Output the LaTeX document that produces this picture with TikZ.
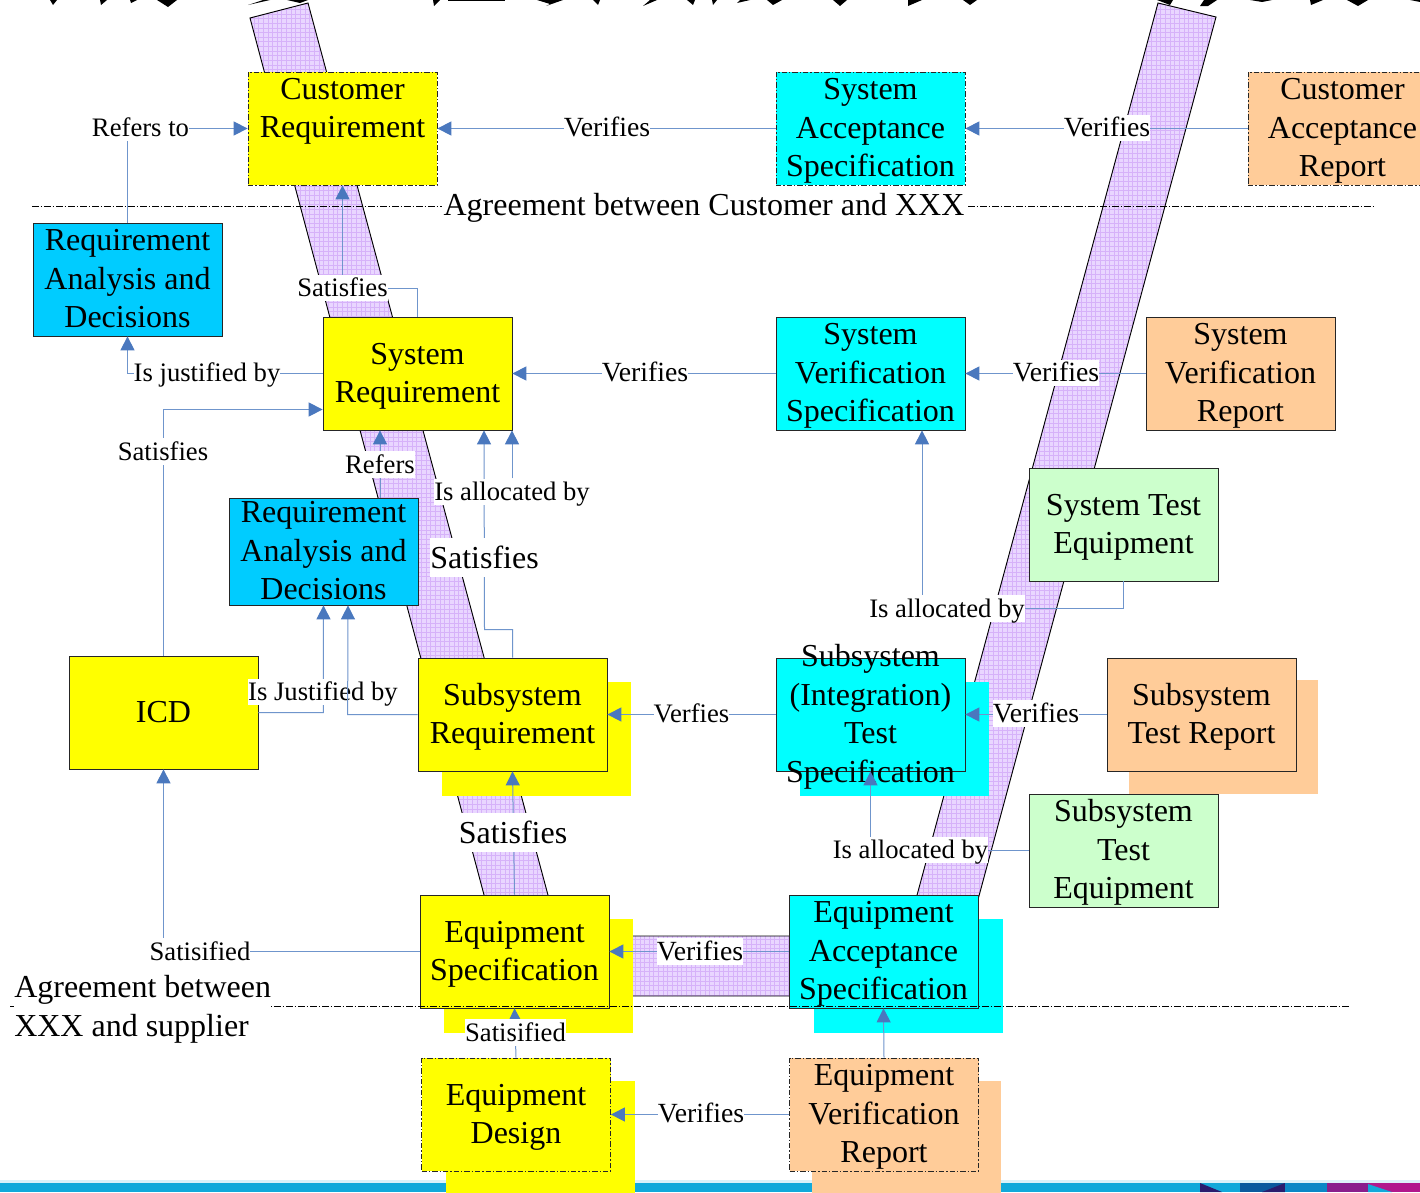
\documentclass[tikz,border=0pt]{standalone}
\usepackage{fontspec}
\setmainfont{Liberation Serif}
\usetikzlibrary{arrows.meta,calc}
\definecolor{yellowbox}{HTML}{FFFF00}
\definecolor{cyanbox}{HTML}{00FFFF}
\definecolor{skybox}{HTML}{00CCFF}
\definecolor{peach}{HTML}{FFCC99}
\definecolor{greenbox}{HTML}{CCFFCC}
\definecolor{linec}{HTML}{6F95CC}
\definecolor{tipc}{HTML}{4A78BE}
\definecolor{bandfill}{HTML}{E9D6FF}
\definecolor{bandgrid}{HTML}{D6B2F9}
\definecolor{barblue}{HTML}{12A9DA}
\definecolor{barnavy}{HTML}{2A1C6E}
\definecolor{bardark}{HTML}{0B5A9E}
\definecolor{barmid}{HTML}{0A87C6}
\definecolor{barpurple}{HTML}{8A1F8C}
\definecolor{barmag}{HTML}{B2188C}
\newcommand\boxtext[2][0pt]{\raisebox{\dimexpr-7.8pt+#1\relax}[0pt][0pt]{\begin{tabular}{@{}c@{}}#2\end{tabular}}}
\tikzset{
  big/.style={font=\fontsize{24}{28.9}\selectfont},
  bx/.style={draw=black!85,line width=0.55pt,rectangle,inner sep=0pt,big,
    minimum width=141.75pt,minimum height=84.75pt,text=black},
  dd/.style={bx,dash pattern=on 4pt off 1.5pt on 1pt off 1.5pt},
  shadowbox/.style={draw=none,rectangle,minimum width=141.75pt,minimum height=85.5pt,inner sep=0pt},
  lbl/.style={fill=white,inner xsep=0pt,inner ysep=0pt,text height=16.5pt,text depth=3.5pt,
    font=\fontsize{20}{24}\selectfont},
  lblv/.style={lbl,font=\fontsize{20.8}{24}\selectfont},
  lblbig/.style={fill=white,inner xsep=0pt,inner ysep=0pt,text height=22.4pt,text depth=6.4pt,big},
  conn/.style={draw=linec,line width=0.75pt,-{Triangle[length=10.5pt,width=10.5pt,fill=tipc,color=tipc]}},
  agree/.style={draw=black,line width=0.5pt,dash pattern=on 5pt off 1.5pt on 1pt off 1.5pt},
  frag/.style={fill=black,draw=none}
}
\begin{document}
\begin{tikzpicture}[x=0.75pt,y=-0.75pt]
\useasboundingbox (0,0) rectangle (1420,1192);
\clip (0,0) rectangle (1420,1192);
\fill[white] (0,0) rectangle (1420,1192);
% bottom bar
\fill[white!85!barblue] (0,1180) rectangle (1420,1183);
\fill[barblue] (0,1183) rectangle (1420,1192);
\fill[barnavy] (1200,1183) -- (1222,1192) -- (1200,1192) -- cycle;
\fill[bardark] (1240,1183) rectangle (1285,1192);
\fill[barnavy] (1262,1192) -- (1285,1183) -- (1285,1192) -- cycle;
\fill[barmid] (1285,1183) rectangle (1327,1192);
\fill[barpurple] (1327,1183) rectangle (1368,1192);
\fill[barmag] (1368,1183) rectangle (1420,1192);
\fill[barblue] (1368,1184) -- (1392,1192) -- (1368,1192) -- cycle;
% clipped fragments at the top edge
\foreach \a/\b/\c/\d in {50/57/53/5,100/107/101/5,130/137/131/3,157/177/168/7,
  433/440/434/6,593/600/598/5,687/695/693/5,712/717/713/5,767/782/773/5,
  833/847/840/6,963/977/970/5,1157/1173/1170/5,1310/1323/1311/5,1347/1368/1358/6}
  {\fill[frag] (\a,0) -- (\b,0) -- (\c,\d) -- cycle;}
\fill[frag] (448,0) rectangle (505,1);
\fill[frag] (537,0) -- (563,0) -- (546,6) -- (550,4) -- cycle;
\fill[frag] (248,5) -- (263,0) -- (270,0) -- cycle;
\fill[frag] (643,6) -- (657,0) -- (650,0) -- cycle;
\fill[frag] (287,0) -- (308,0) -- (300,3) -- cycle;
\fill[frag] (737,3) -- (750,0) -- (740,0) -- cycle;
\fill[frag] (908,6) -- (922,0) -- (908,0) -- cycle;
\fill[frag] (1200,6) -- (1204,0) -- (1217,0) -- (1208,6) -- cycle;
\fill[frag] (1250,0) -- (1272,0) -- (1262,2) -- cycle;
\fill[frag] (1410,0) -- (1420,0) -- (1420,2) -- cycle;
% purple band
\path[fill=bandfill] (250,18) -- (308,3) -- (559,936) -- (906,936) -- (1158,3) -- (1216,17) -- (952,996) -- (511,996) -- cycle;
\begin{scope}
  \clip (250,18) -- (308,3) -- (559,936) -- (906,936) -- (1158,3) -- (1216,17) -- (952,996) -- (511,996) -- cycle;
  \foreach \i in {0,1,...,215} {\draw[bandgrid,line width=0.6pt] (0,{\i*4.65}) -- (1420,{\i*4.65});}
  \foreach \i in {0,1,...,215} {\draw[bandgrid,line width=0.6pt] ({240+\i*4.65},0) -- ({240+\i*4.65},1000);}
\end{scope}
\draw[black,line width=0.7pt,line join=miter] (250,18) -- (308,3) -- (559,936) -- (906,936) -- (1158,3) -- (1216,17) -- (952,996) -- (511,996) -- cycle;
% shadows
\node[shadowbox,fill=yellowbox] (s1) at (536.5,738.5) {};
\node[shadowbox,fill=cyanbox]   (s2) at (894.5,738.5) {};
\node[shadowbox,fill=peach]     (s3) at (1223.5,737) {};
\node[shadowbox,fill=yellowbox] (s4) at (538.5,976) {};
\node[shadowbox,fill=cyanbox]   (s5) at (908,976) {};
\node[shadowbox,fill=yellowbox] (s6) at (540,1138) {};
\node[shadowbox,fill=peach]     (s7) at (906.5,1138) {};
% boxes
\node[dd,fill=yellowbox] (custreq) at (342.5,128.5) {\boxtext[15pt]{Customer\\Requirement}};
\node[dd,fill=cyanbox] (sysacc)  at (870.5,128.5) {\boxtext{System\\Acceptance\\Specification}};
\node[dd,fill=peach]   (custrep) at (1342.5,128.5) {\boxtext{Customer\\Acceptance\\Report}};
\node[bx,fill=skybox]  (rad)     at (127.5,279.5) {\boxtext{Requirement\\Analysis and\\Decisions}};
\node[bx,fill=yellowbox] (sysreq) at (417.5,373.5) {\boxtext{System\\Requirement}};
\node[bx,fill=cyanbox] (sysver)  at (870.5,373.5) {\boxtext{System\\Verification\\Specification}};
\node[bx,fill=peach]   (sysrep)  at (1240.5,373.5) {\boxtext{System\\Verification\\Report}};
\node[bx,fill=greenbox] (syste)  at (1123.5,524.5) {\boxtext{System Test\\Equipment}};
\node[bx,fill=skybox,minimum height=80.25pt] (radb) at (323.5,551.5) {\boxtext{Requirement\\Analysis and\\Decisions}};
\node[bx,fill=yellowbox] (icd)   at (163.5,712.5) {\boxtext{ICD}};
\node[bx,fill=yellowbox] (subreq) at (512.5,714.5) {\boxtext{Subsystem\\Requirement}};
\node[bx,fill=cyanbox] (subspec) at (870.5,714.5) {\boxtext{Subsystem\\(Integration)\\Test\\Specification}};
\node[bx,fill=peach]   (subrep)  at (1201.5,714.5) {\boxtext{Subsystem\\Test Report}};
\node[bx,fill=greenbox] (subte)  at (1123.5,850.5) {\boxtext{Subsystem\\Test\\Equipment}};
\node[bx,fill=yellowbox] (eqspec) at (514.5,951.5) {\boxtext{Equipment\\Specification}};
\node[bx,fill=cyanbox] (eqacc)   at (883.5,951.5) {\boxtext{Equipment\\Acceptance\\Specification}};
\node[dd,fill=yellowbox] (eqdes) at (516,1114.5) {\boxtext{Equipment\\Design}};
\node[dd,fill=peach]   (eqrep)   at (884,1114.5) {\boxtext{Equipment\\Verification\\Report}};
% connectors
\draw[conn] (rad.north) |- (custreq.west);
\draw[conn] (sysacc.west) -- (custreq.east);
\draw[conn] (custrep.west) -- (sysacc.east);
\draw[conn] (sysreq.north) -- ++(0,-28) -| (custreq.south);
\draw[conn] (sysreq.west) -| (rad.south);
\draw[conn] (sysver.west) -- (sysreq.east);
\draw[conn] (sysrep.west) -- (sysver.east);
\draw[conn] (icd.north) |- ($(sysreq.west)+(0,36)$);
\draw[conn] ($(radb.north)+(56.5,0)$) -- ($(sysreq.south)+(-37.5,0)$);
\draw[conn] (subreq.north) -- ++(0,-28) -- ++(-28,0) -- ($(sysreq.south)+(66.5,0)$);
\draw[conn] (icd.east) -- ++(65,0) -- (radb.south);
\draw[conn] (subspec.west) -- (subreq.east);
\draw[conn] (subrep.west) -- (subspec.east);
\draw[conn] (syste.south) -- ++(0,27) -| ($(sysver.south)+(51.5,0)$);
\draw[conn] (subte.west) -| (subspec.south);
\draw[conn] (eqspec.north) -- (subreq.south);
\draw[conn] (eqacc.west) -- (eqspec.east);
\draw[conn] (eqspec.west) -| (icd.south);
\draw[conn] (eqdes.north) -- (eqspec.south);
\draw[conn] (eqrep.north) -- (eqacc.south);
\draw[conn] (eqrep.west) -- (eqdes.east);
% agreement lines
\coordinate (ag1a) at (32,206); \coordinate (ag1b) at (1375,206);
\coordinate (ag2a) at (10,1006); \coordinate (ag2b) at (1350,1006);
\draw[agree] (ag1a) -- (ag1b);
\draw[agree] (ag2a) -- (ag2b);
\node[lblbig,inner xsep=1pt] (ag1) at (704,205) {Agreement between Customer and XXX};
\node[fill=white,inner sep=0pt,align=left,big,anchor=north west] (ag2) at (14,975) {Agreement between\\XXX and supplier};
% labels
\node[lbl]  (l1)  at (140.5,128) {Refers to};
\node[lblv] (l2)  at (607,128) {Verifies};
\node[lblv] (l3)  at (1107,128) {Verifies};
\node[lbl]  (l4)  at (342.5,288) {Satisfies};
\node[lbl]  (l5)  at (207,373) {Is justified by};
\node[lblv] (l6)  at (645,373) {Verifies};
\node[lblv] (l7)  at (1056,373) {Verifies};
\node[lbl]  (l8)  at (163,451.5) {Satisfies};
\node[lbl]  (l9)  at (380,464.5) {Refers};
\node[lbl]  (l10) at (512,492) {Is allocated by};
\node[lblbig] (l11) at (484.5,557.5) {Satisfies};
\node[lbl]  (l12) at (323,692) {Is Justified by};
\node[lbl]  (l13) at (691.5,713.5) {Verfies};
\node[lblv] (l14) at (1036,713.5) {Verifies};
\node[lbl]  (l15) at (947,608.5) {Is allocated by};
\node[lbl]  (l16) at (910.5,850) {Is allocated by};
\node[lblbig] (l17) at (513,832.5) {Satisfies};
\node[lblv] (l18) at (700,951.5) {Verifies};
\node[lbl]  (l19) at (200,951.5) {Satisified};
\node[lbl]  (l20) at (515.5,1032.5) {Satisified};
\node[lblv] (l21) at (701,1113.5) {Verifies};
% drawn over the labels
\draw[conn] (l10.north) -- ($(sysreq.south)+(94.5,0)$);
\draw[conn] (subreq.west) -- ++(-70,0) -- ($(radb.south)+(24.5,0)$);
\end{tikzpicture}
\end{document}
